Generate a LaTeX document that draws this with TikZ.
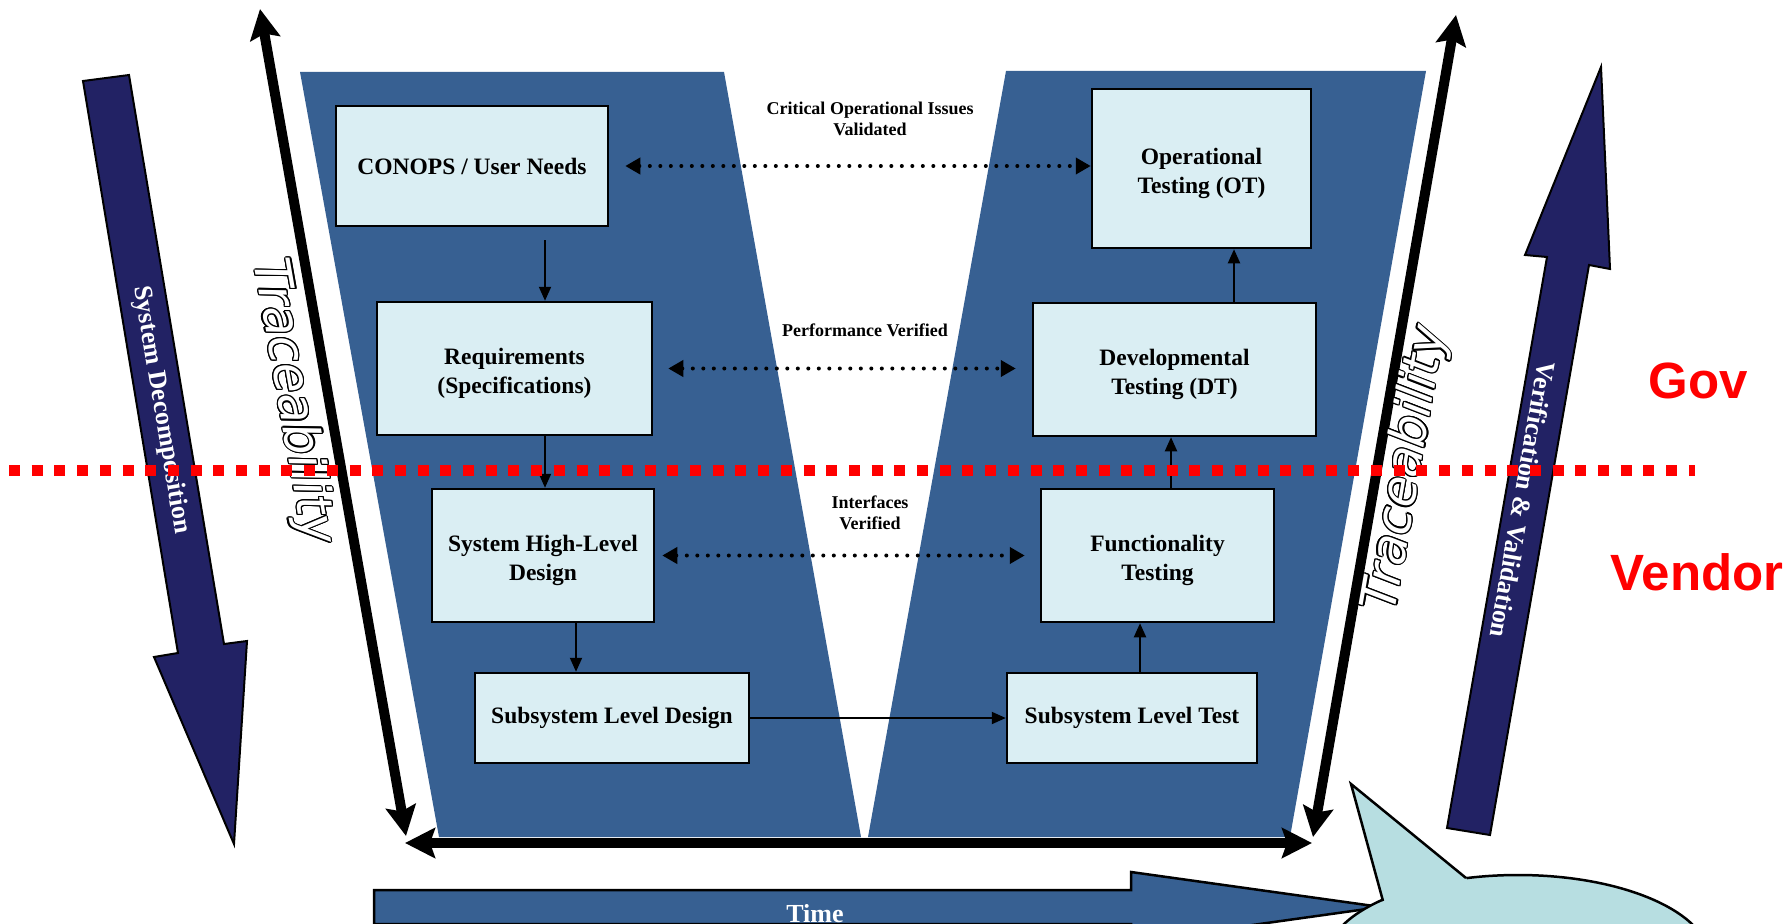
\documentclass[tikz,border=0pt]{standalone}
\usepackage{fontspec}
\setmainfont{Liberation Serif}
\newfontfamily\govfont{Liberation Sans}
\newfontfamily\tracefont{DejaVu Sans}
\usepackage{contour}
\contourlength{1.2pt}
\usetikzlibrary{arrows.meta, calc, positioning}

\definecolor{vblue}{RGB}{55,96,146}
\definecolor{boxfill}{RGB}{218,238,243}
\definecolor{navy}{RGB}{34,34,100}
\definecolor{bubble}{RGB}{183,222,225}

% two-line box text, pushed down a little
\newcommand{\twolines}[2]{\rule{0pt}{26pt}#1\\#2}

\tikzset{
  box/.style={draw=black, line width=2.5pt, fill=boxfill, align=center, inner sep=0pt,
    font=\bfseries\fontsize{23.5}{28.5}\selectfont},
  flow/.style={line width=2pt, -{Triangle[length=14pt,width=12pt]}},
  check/.style={line width=4pt, line cap=round, dash pattern=on 0pt off 10.5pt,
    {Triangle[length=15pt,width=16pt]}-{Triangle[length=15pt,width=16pt]}},
  lbl/.style={align=center, inner sep=0pt, font=\bfseries\fontsize{18}{21.5}\selectfont},
  trace/.style={line width=10pt,
    {Stealth[length=30pt,width=30pt,inset=5pt]}-{Stealth[length=30pt,width=30pt,inset=5pt]}},
  tracetxt/.style={text=white, inner sep=0pt, font=\tracefont\itshape\fontsize{50}{50}\selectfont},
  bigarrow/.style={fill=navy, draw=black, line width=2pt, line join=miter},
  arrowtxt/.style={text=white, inner sep=0pt, font=\bfseries\fontsize{26}{26}\selectfont},
  redtxt/.style={text=red, inner sep=0pt, font=\govfont\bfseries\fontsize{51}{51}\selectfont}
}

\begin{document}
\begin{tikzpicture}[x=1pt, y=-1pt]
  \useasboundingbox (0,0) rectangle (1787,923);

  % the two halves of the V
  \fill[vblue] (300,72) -- (724,72) -- (861,837) -- (439,837) -- cycle;
  \fill[vblue] (1006,71) -- (1426,71) -- (1290,837) -- (868,837) -- cycle;

  % left leg
  \node[box, minimum width=272pt, minimum height=120pt] (conops) at (472,166) {CONOPS / User Needs};
  \node[box, minimum width=275pt, minimum height=133pt] (req) at (514.5,368.5) {\twolines{Requirements}{(Specifications)}};
  \node[box, minimum width=222pt, minimum height=133pt] (shld) at (543,555.5) {\twolines{System High-Level}{Design}};
  \node[box, minimum width=274pt, minimum height=90pt] (sld) at (612,718) {Subsystem Level Design};

  % right leg
  \node[box, minimum width=219pt, minimum height=159pt] (ot) at (1201.5,168.5) {\twolines{Operational}{Testing (OT)}};
  \node[box, minimum width=283pt, minimum height=133pt] (dt) at (1174.5,369.5) {\twolines{Developmental}{Testing (DT)}};
  \node[box, minimum width=233pt, minimum height=133pt] (ft) at (1157.5,555.5) {\twolines{Functionality}{Testing}};
  \node[box, minimum width=250pt, minimum height=90pt] (slt) at (1132,718) {Subsystem Level Test};

  \draw[flow] ([xshift=73pt,yshift=-13pt]conops.south) -- ([xshift=30.5pt]req.north);
  \draw[flow] ([xshift=30.5pt]req.south) -- ([xshift=2pt]shld.north);
  \draw[flow] ([xshift=33pt]shld.south) -- ([xshift=-36pt]sld.north);
  \draw[flow] (sld.east) -- (slt.west);
  \draw[flow] ([xshift=8pt]slt.north) -- ([xshift=-17.5pt]ft.south);
  \draw[flow] ([xshift=13.5pt]ft.north) -- ([xshift=-3.5pt]dt.south);
  \draw[flow] ([xshift=59.5pt]dt.north) -- ([xshift=32.5pt]ot.south);

  % checks across the V
  \draw[check] ([xshift=16pt]conops.east) -- (conops.east -| ot.west);
  \draw[check] ([xshift=15pt]req.east) -- ($(req.east -| dt.west)+(-16,0)$);
  \draw[check] ([xshift=7pt]shld.east) -- ($(shld.east -| ft.west)+(-15,0)$);
  \node[lbl] (coi) at (870,119) {Critical Operational Issues\\Validated};
  \node[lbl] (perf) at (865,330) {Performance Verified};
  \node[lbl] (intf) at (870,513) {Interfaces\\Verified};

  % system decomposition / verification arrows
  \draw[bigarrow] (83,81) -- (129,75) -- (224,644) -- (247,641) -- (234,844) -- (154,657) -- (178,653) -- cycle;
  \node[arrowtxt, rotate=-80.5] (sysdec) at (161,410) {System Decomposition};
  \draw[bigarrow] (1447,828) -- (1547,257) -- (1525,255) -- (1601,67) -- (1610,269) -- (1589,265) -- (1490,835) -- cycle;
  \node[arrowtxt, rotate=-100] (vv) at (1523,500) {Verification \& Validation};

  % traceability frame
  \coordinate (tl) at (260,9);
  \coordinate (bl) at (406,836);
  \coordinate (bh) at (405,843);
  \coordinate (rh) at (1312,843);
  \coordinate (br) at (1313,837);
  \coordinate (tr) at (1456,15);
  \draw[trace] (tl) -- (bl);
  \draw[trace] (bh) -- (rh);
  \draw[trace] (br) -- (tr);
  \node[tracetxt, rotate=-80] (trl) at (292,402) {\contour{black}{Traceability}};
  \node[tracetxt, rotate=80] (trr) at (1407,469) {\contour{black}{Traceability}};

  % time
  \draw[fill=vblue, line width=2.5pt] (374,890) -- (1131,890) -- (1131,872) -- (1381,907) -- (1131,942) -- (1131,924) -- (374,924) -- cycle;
  \node[arrowtxt, anchor=base] (time) at (815,922.5) {Time};

  % callout
  \draw[fill=bubble, line width=2.5pt] (1518,960) ellipse [x radius=192pt, y radius=85pt];
  \fill[bubble] (1472,890) -- (1466,878) -- (1351,784) -- (1383,901) -- (1390,912) -- cycle;
  \draw[line width=2.5pt, line join=miter] (1466,878) -- (1351,784) -- (1383,901);

  % gov / vendor split
  \draw[red, line width=11pt, dash pattern=on 11pt off 11.7pt] (9,470) -- (1695,470);
  \node[redtxt] (gov) at (1698,381) {Gov};
  \node[redtxt] (vendor) at (1697,572) {Vendor};
\end{tikzpicture}
\end{document}
